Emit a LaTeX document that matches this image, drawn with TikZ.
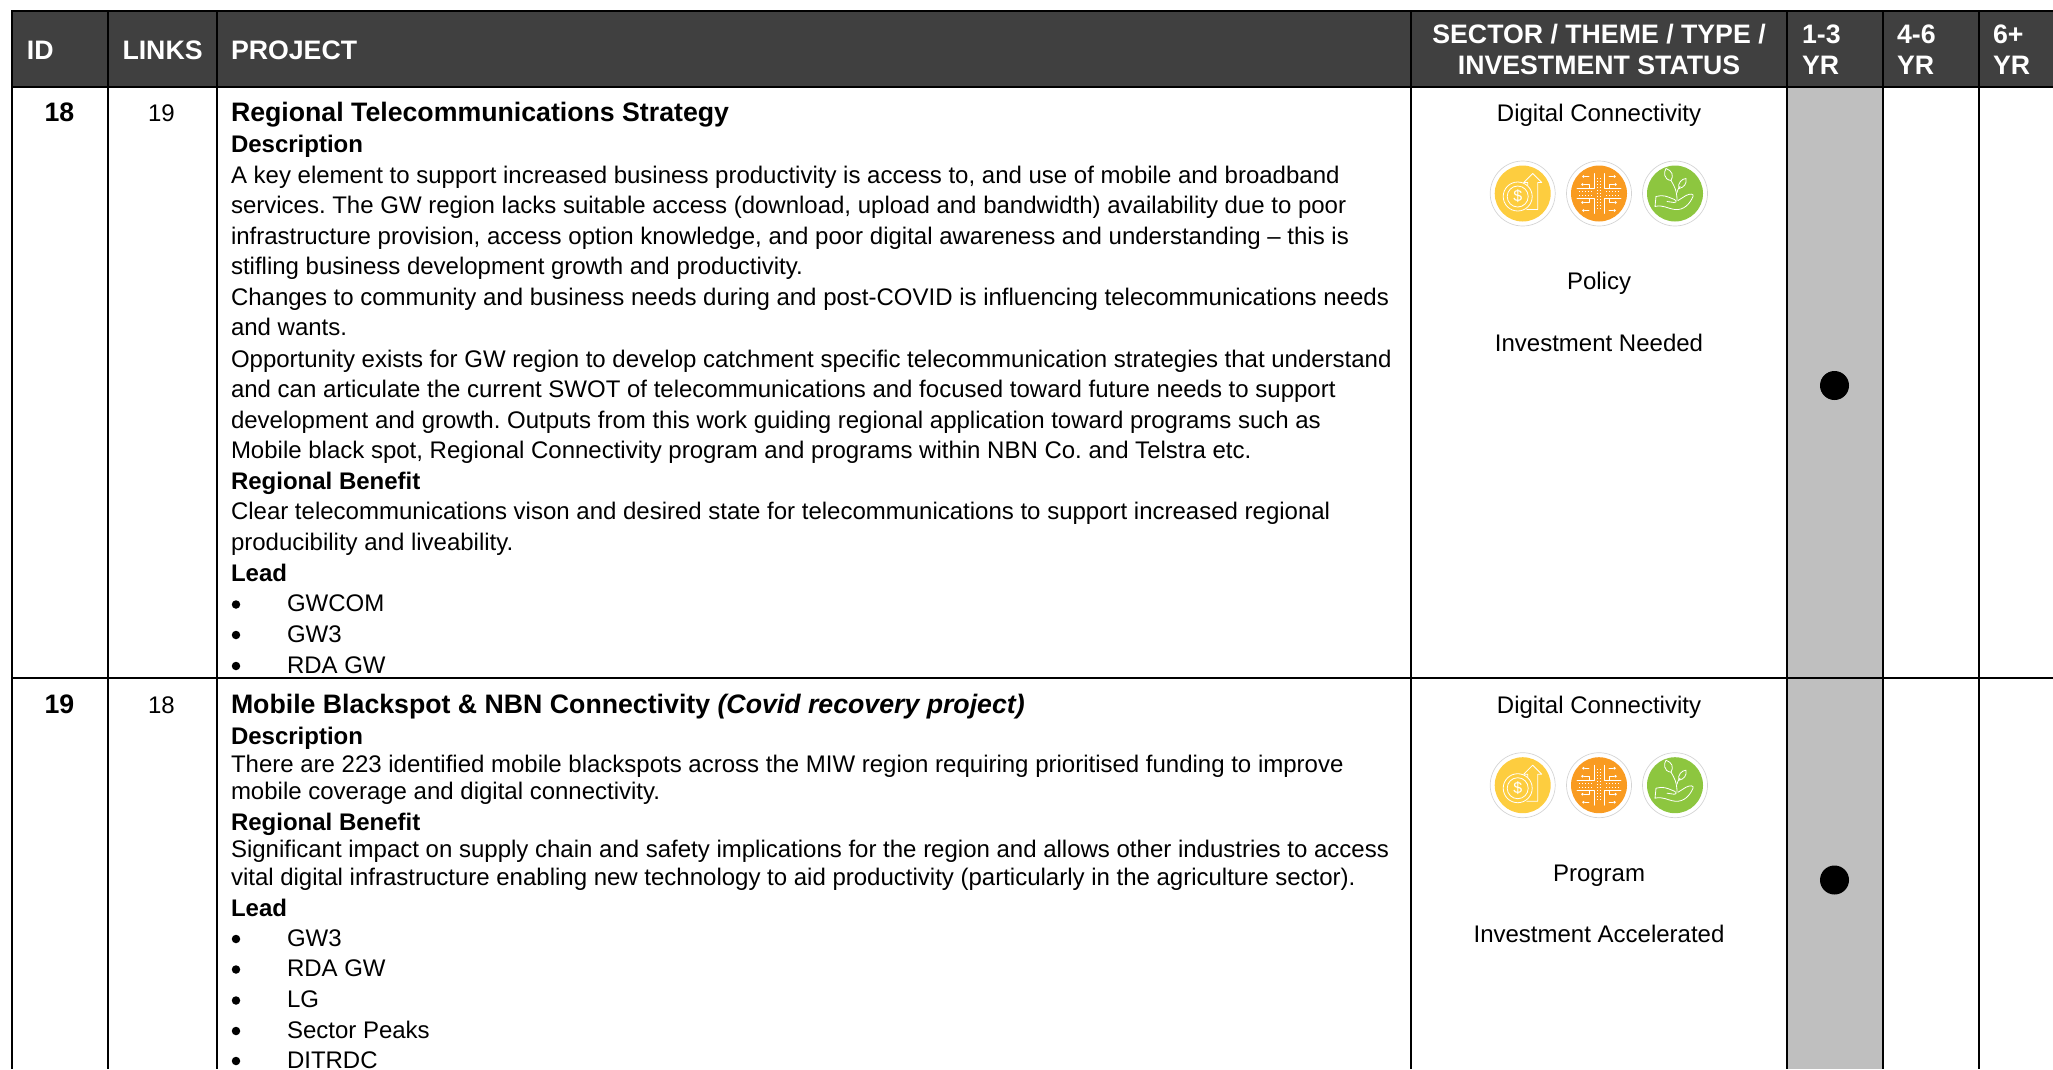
\documentclass[tikz,border=0pt]{standalone}
\usepackage{fontspec}
\setmainfont{Liberation Sans}
\frenchspacing
\definecolor{headbg}{HTML}{404040}
\definecolor{cellgray}{HTML}{BFBFBF}
\definecolor{icyellow}{HTML}{FDCD3F}
\definecolor{icorange}{HTML}{F99B21}
\definecolor{icgreen}{HTML}{8DC63F}
\definecolor{icring}{HTML}{D4D4D4}
\newcounter{tl}
\newcommand{\bodysize}{\fontsize{24}{30}\selectfont}
\newcommand{\titlesize}{\fontsize{26.7}{30}\selectfont}
\tikzset{
  every node/.style={inner sep=0pt,outer sep=0pt,text=black},
  txt/.style={anchor=base west,font=\bodysize},
  ttl/.style={anchor=base west,font=\titlesize\bfseries},
  ctr/.style={anchor=base,font=\bodysize},
  hd/.style={anchor=base west,font=\titlesize\bfseries,text=white},
  hdc/.style={anchor=base,font=\titlesize\bfseries,text=white},
  rule/.style={draw=black,line width=2.8pt},
  art/.style={draw=white,line width=0.8pt,line join=round,line cap=round},
}
\newcommand{\tline}[3][txt]{\stepcounter{tl}\node[#1] (t\thetl) at (231,#2) {#3};}
\newcommand{\bline}[2]{\stepcounter{tl}\node[fill=black,circle,minimum size=8.5pt] (b\thetl) at (236,#1-7) {};\node[txt] (t\thetl) at (287,#1) {#2};}
\newcommand{\badge}[2]{\fill[#2] (#1,0) circle (28);\draw[icring,line width=0.7pt] (#1,0) circle (32.5);}
\newcommand{\iconrow}[2]{%
\begin{scope}[shift={(0,#1)}]
  \badge{1522.7}{icyellow}\badge{1599}{icorange}\badge{1675}{icgreen}
  % coin and rising arrow
  \begin{scope}[shift={(1522.7,0)}]
    \draw[art] (-5,3) circle (14.5);
    \draw[art] (-5,3) circle (10.5);
    \node[font=\fontsize{16}{16}\selectfont,text=white] (coin#2) at (-5,3) {\$};
    \draw[art] (5,-8) -- (5,-11) -- (1,-11) -- (10,-20) -- (19,-11) -- (15,-11) -- (15,16) -- (4,16);
  \end{scope}
  % circuit
  \begin{scope}[shift={(1599,0)}]
    \foreach \sx/\sy in {1/1,-1/1,1/-1,-1/-1}{
      \begin{scope}[xscale=\sx,yscale=\sy]
        \draw[art] (5,-20) -- (5,-5) -- (22,-5);
        \draw[art] (10,-17) -- (14,-17);
        \draw[art] (10,-5) -- (10,-9) -- (15,-9);
        \fill[white] (15.5,-17) circle (1.4);
        \fill[white] (16.5,-9) circle (1.4);
        \draw[white,line width=1pt,dotted] (7,-2) -- (20,-2);
      \end{scope}}
    \draw[white,line width=1pt,dotted] (-1.5,-16) -- (-1.5,16);
    \draw[white,line width=1pt,dotted] (1.5,-16) -- (1.5,16);
  \end{scope}
  % plant on hand
  \begin{scope}[shift={(1675,0)}]
    \draw[art] (2,7) .. controls (2,-3) and (-1,-8) .. (-4,-13);
    \draw[art] (2,-1) .. controls (3,-5) and (4,-6) .. (5,-7);
    \draw[art] (-4,-13) .. controls (-12,-14) and (-11,-22) .. (-9,-25) .. controls (-3,-23) and (-1,-18) .. (-4,-13);
    \draw[art] (4,-5) .. controls (2,-10) and (7,-15) .. (11,-15) .. controls (12,-10) and (9,-6) .. (4,-5);
    \draw[art] (-19,3) .. controls (-12,1) and (-8,3) .. (-3,5) .. controls (1,6) and (3,9) .. (-1,9) -- (-8,8);
    \draw[art] (3,7) -- (11,2) .. controls (15,0) and (19,0) .. (18,3) .. controls (15,10) and (9,17) .. (0,16) .. controls (-8,15) and (-12,11) .. (-20,13) -- (-19,3);
  \end{scope}
\end{scope}}
\begin{document}
\begin{tikzpicture}[x=1pt,y=-1pt]
\useasboundingbox (0,0) rectangle (2053,1069);
\begin{scope}
\clip (0,0) rectangle (2053,1069);
% header band and grey period column
\fill[headbg] (12,11) rectangle (2053,87);
\fill[cellgray] (1787,87) rectangle (1883,1069);
% rules
\draw[rule] (2053,11) -- (12,11) -- (12,1069);
\draw[rule] (12,87) -- (2053,87);
\draw[rule] (12,678) -- (2053,678);
\foreach \cx in {108,217,1411,1787,1883,1979}{\draw[rule] (\cx,11) -- (\cx,1069);}
% header
\node[hd] (hid) at (27,59) {ID};
\node[hd] (hlinks) at (122.5,59) {LINKS};
\node[hd] (hproj) at (231,59) {PROJECT};
\node[hdc] (hsec1) at (1599,43) {SECTOR / THEME / TYPE /};
\node[hdc] (hsec2) at (1599,74) {INVESTMENT STATUS};
\node[hd] (h1a) at (1802,43) {1-3}; \node[hd] (h1b) at (1802,74) {YR};
\node[hd] (h2a) at (1897,43) {4-6}; \node[hd] (h2b) at (1897,74) {YR};
\node[hd] (h3a) at (1993,43) {6+};  \node[hd] (h3b) at (1993,74) {YR};
% row 18
\node[ctr,font=\titlesize\bfseries] (id18) at (59.5,121.5) {18};
\node[ctr] (lk18) at (161.5,121.5) {19};
\tline[ttl]{121.5}{Regional Telecommunications Strategy}
\tline[txt,font=\bodysize\bfseries]{152}{Description}
\tline{183}{A key element to support increased business productivity is access to, and use of mobile and broadband}
\tline{213.5}{services. The GW region lacks suitable access (download, upload and bandwidth) availability due to poor}
\tline{244}{infrastructure provision, access option knowledge, and poor digital awareness and understanding – this is}
\tline{274.5}{stifling business development growth and productivity.}
\tline{305}{Changes to community and business needs during and post-COVID is influencing telecommunications needs}
\tline{335.5}{and wants.}
\tline{367}{Opportunity exists for GW region to develop catchment specific telecommunication strategies that understand}
\tline{397}{and can articulate the current SWOT of telecommunications and focused toward future needs to support}
\tline{428}{development and growth. Outputs from this work guiding regional application toward programs such as}
\tline{458.5}{Mobile black spot, Regional Connectivity program and programs within NBN Co. and Telstra etc.}
\tline[txt,font=\bodysize\bfseries]{489}{Regional Benefit}
\tline{519}{Clear telecommunications vison and desired state for telecommunications to support increased regional}
\tline{550}{producibility and liveability.}
\tline[txt,font=\bodysize\bfseries]{581}{Lead}
\bline{611.5}{GWCOM}
\bline{642}{GW3}
\bline{673}{RDA GW}
\node[ctr] (sec18) at (1599,121.5) {Digital Connectivity};
\iconrow{193.5}{a}
\node[ctr] (typ18) at (1599,289.5) {Policy};
\node[ctr] (inv18) at (1599,351) {Investment Needed};
\node[circle,fill=black,minimum size=29pt] (dot18) at (1834.5,385.5) {};
% row 19
\node[ctr,font=\titlesize\bfseries] (id19) at (59.5,713.5) {19};
\node[ctr] (lk19) at (161.5,713.5) {18};
\tline[ttl]{713.5}{Mobile Blackspot \& NBN Connectivity \textit{(Covid recovery project)}}
\tline[txt,font=\bodysize\bfseries]{744}{Description}
\tline{772}{There are 223 identified mobile blackspots across the MIW region requiring prioritised funding to improve}
\tline{799.5}{mobile coverage and digital connectivity.}
\tline[txt,font=\bodysize\bfseries]{830}{Regional Benefit}
\tline{857.5}{Significant impact on supply chain and safety implications for the region and allows other industries to access}
\tline{885}{vital digital infrastructure enabling new technology to aid productivity (particularly in the agriculture sector).}
\tline[txt,font=\bodysize\bfseries]{916}{Lead}
\bline{946}{GW3}
\bline{976.5}{RDA GW}
\bline{1007.5}{LG}
\bline{1038}{Sector Peaks}
\bline{1068}{DITRDC}
\node[ctr] (sec19) at (1599,713) {Digital Connectivity};
\iconrow{785.2}{b}
\node[ctr] (typ19) at (1599,881) {Program};
\node[ctr] (inv19) at (1599,942.5) {Investment Accelerated};
\node[circle,fill=black,minimum size=29pt] (dot19) at (1834.5,880) {};
\end{scope}
\end{tikzpicture}
\end{document}
